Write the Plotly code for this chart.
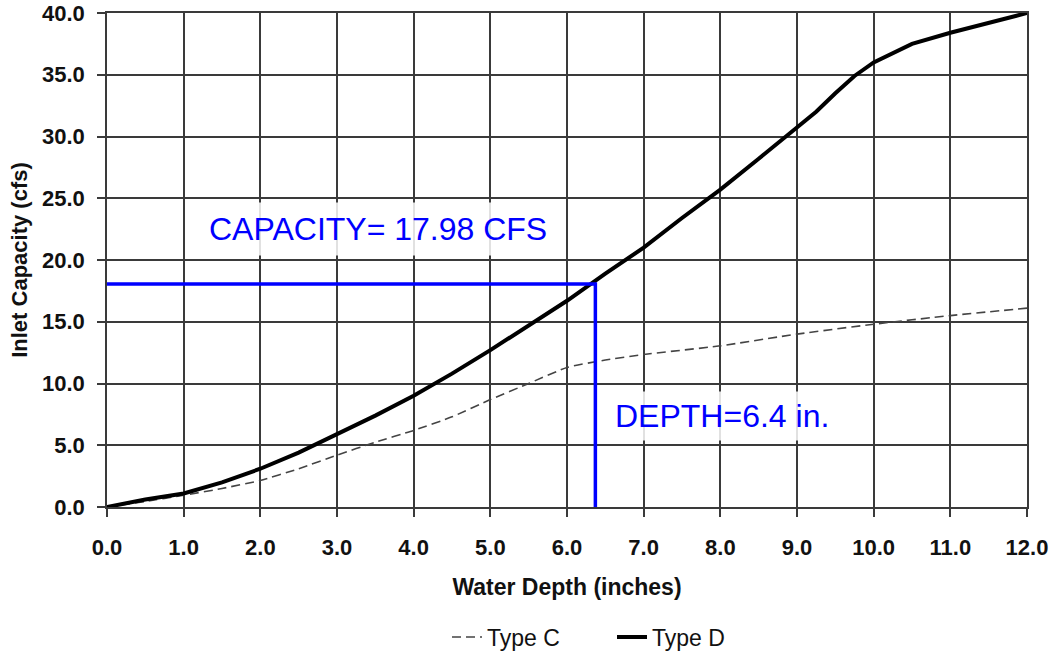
import plotly.graph_objects as go

# Type D (solid) curve
d_depth = [0, 0.5, 1, 1.5, 2, 2.5, 3, 3.5, 4, 4.5, 5, 5.5, 6, 6.5, 7, 7.5, 8, 8.5, 9, 9.25, 9.5, 9.75, 10, 10.5, 11, 11.5, 12]
d_capacity = [0, 0.6, 1.1, 2.0, 3.1, 4.4, 5.9, 7.4, 9.0, 10.8, 12.7, 14.7, 16.7, 18.9, 21.0, 23.4, 25.7, 28.2, 30.8, 32.0, 33.5, 34.9, 36.0, 37.5, 38.4, 39.2, 40.0]

# Type C (dashed) curve
c_depth = [0, 0.5, 1, 1.5, 2, 2.5, 3, 3.5, 4, 4.5, 5, 5.5, 6, 6.5, 7, 8, 9, 10, 11, 12]
c_capacity = [0, 0.45, 0.95, 1.5, 2.15, 3.1, 4.2, 5.25, 6.2, 7.3, 8.7, 10.0, 11.3, 11.9, 12.35, 13.05, 14.0, 14.8, 15.5, 16.1]

# Design point
design_depth = 6.37
design_capacity = 18.05

x_ticks = [i * 1.0 for i in range(13)]
y_ticks = [i * 5.0 for i in range(9)]

FONT = "Liberation Sans, Arial, sans-serif"
GRID = "#3a3a3a"

fig = go.Figure()
fig.add_trace(go.Scatter(x=c_depth, y=c_capacity, mode="lines", name="Type C",
                         line=dict(color="#444444", width=1.6, dash="9px,5px", shape="spline", smoothing=0.5)))
fig.add_trace(go.Scatter(x=d_depth, y=d_capacity, mode="lines", name="Type D",
                         line=dict(color="black", width=4)))
fig.add_trace(go.Scatter(x=[0, design_depth, design_depth], y=[design_capacity, design_capacity, 0],
                         mode="lines", showlegend=False, hoverinfo="skip",
                         line=dict(color="#0000ff", width=3.5)))

fig.add_annotation(x=3.53, y=22.5, xref="x", yref="y", text="CAPACITY= 17.98 CFS",
                   showarrow=False, font=dict(family=FONT, size=32, color="#0000ff"),
                   bgcolor="rgba(255,255,255,0.85)", borderpad=8)
fig.add_annotation(x=6.54, y=7.4, xref="x", yref="y", text="DEPTH=6.4 in.", xanchor="left",
                   showarrow=False, font=dict(family=FONT, size=32, color="#0000ff"),
                   bgcolor="rgba(255,255,255,0.85)", borderpad=6)

axis_common = dict(showgrid=True, gridcolor=GRID, gridwidth=1.6,
                   showline=True, mirror=True, linecolor=GRID, linewidth=1.6,
                   ticks="outside", ticklen=8, tickcolor=GRID, tickwidth=1.6,
                   zeroline=False, automargin=False,
                   tickfont=dict(family=FONT, size=22, color="#111111", weight="bold"))

fig.update_xaxes(range=[0, 12], tickvals=x_ticks, ticktext=[f"{v:.1f}" for v in x_ticks],
                 title=dict(text="<b>Water Depth (inches)</b>", font=dict(family=FONT, size=23, color="#111111"), standoff=20),
                 ticklabelstandoff=12, **axis_common)
fig.update_yaxes(range=[0, 40], tickvals=y_ticks, ticktext=[f"{v:.1f}" for v in y_ticks],
                 title=dict(text="<b>Inlet Capacity (cfs)</b>", font=dict(family=FONT, size=22, color="#111111"), standoff=8),
                 ticklabelstandoff=8, **axis_common)

fig.update_layout(
    width=1057, height=657,
    margin=dict(l=107, r=30, t=13, b=150, autoexpand=False),
    plot_bgcolor="white", paper_bgcolor="white",
    font=dict(family=FONT, color="#111111"),
    legend=dict(orientation="h", xref="container", yref="container",
                x=0.4229, xanchor="left", y=0.0304, yanchor="middle",
                font=dict(family=FONT, size=23, color="#111111"),
                entrywidth=120, entrywidthmode="pixels",
                traceorder="normal"),
)

page_fix = (
    "document.documentElement.style.margin='0';document.documentElement.style.padding='0';"
    "document.documentElement.style.overflow='hidden';"
    "document.body.style.margin='0';document.body.style.padding='0';"
    "document.body.style.overflow='hidden';"
)

fig.write_html("out.html", config={"displayModeBar": False}, post_script=page_fix)
